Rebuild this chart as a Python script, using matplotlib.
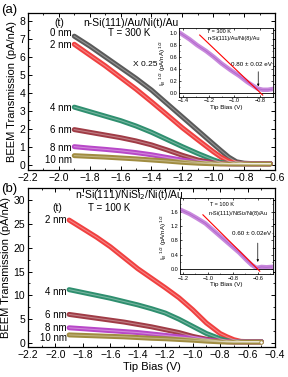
import numpy as np
import matplotlib
matplotlib.use('Agg')
import matplotlib.pyplot as plt
from matplotlib.ticker import MultipleLocator

plt.rcParams['font.family'] = ['Liberation Sans', 'DejaVu Sans']

# ---- panel (a): n-Si(111)/Au/Ni(t)/Au, 300 K
bias_a = [-1.90, -1.80, -1.70, -1.60, -1.50, -1.40, -1.30, -1.20, -1.10, -1.00,
          -0.95, -0.90, -0.85, -0.80, -0.75, -0.70, -0.63]
a_0nm = [7.15, 6.6, 6.0, 5.4, 4.8, 4.15, 3.4, 2.65, 1.9, 1.15, 0.78, 0.42, 0.16, 0.08, 0.06, 0.06, 0.05]
a_2nm = [6.7, 6.1, 5.5, 4.85, 4.2, 3.5, 2.78, 2.05, 1.38, 0.72, 0.42, 0.19, 0.08, 0.06, 0.05, 0.05, 0.05]
a_4nm = [3.2, 2.95, 2.7, 2.45, 2.15, 1.8, 1.4, 1.0, 0.62, 0.27, 0.12, 0.06, 0.05, 0.05, 0.05, 0.05, 0.05]
a_6nm = [1.95, 1.8, 1.65, 1.5, 1.32, 1.1, 0.82, 0.52, 0.26, 0.1, 0.07, 0.05, 0.05, 0.05, 0.05, 0.05, 0.05]
a_8nm = [1.0, 0.92, 0.85, 0.77, 0.67, 0.55, 0.4, 0.25, 0.13, 0.07, 0.05, 0.05, 0.05, 0.05, 0.05, 0.05, 0.05]
a_10nm = [0.5, 0.46, 0.42, 0.37, 0.32, 0.26, 0.2, 0.13, 0.08, 0.05, 0.04, 0.04, 0.04, 0.04, 0.04, 0.04, 0.04]

# ---- panel (b): n-Si(111)/NiSi2/Ni(t)/Au, 100 K
bias_b = [-1.90, -1.80, -1.70, -1.60, -1.50, -1.40, -1.30, -1.20, -1.10, -1.00,
          -0.90, -0.80, -0.75, -0.70, -0.65, -0.60, -0.55, -0.50]
b_2nm = [25.8, 24.0, 22.2, 20.2, 17.9, 15.6, 13.6, 11.6, 9.5, 7.0, 4.2, 2.0, 1.3, 0.7, 0.35, 0.3, 0.3, 0.3]
b_4nm = [11.2, 10.6, 10.0, 9.4, 8.7, 8.0, 7.2, 6.3, 5.0, 3.5, 2.0, 0.9, 0.5, 0.3, 0.3, 0.3, 0.3, 0.3]
b_6nm = [6.0, 5.6, 5.2, 4.8, 4.4, 3.9, 3.4, 2.8, 2.2, 1.4, 0.8, 0.4, 0.3, 0.25, 0.25, 0.25, 0.25, 0.25]
b_8nm = [3.2, 3.0, 2.8, 2.6, 2.4, 2.2, 1.9, 1.6, 1.3, 1.0, 0.6, 0.35, 0.3, 0.25, 0.25, 0.25, 0.25, 0.25]
b_10nm = [1.7, 1.6, 1.5, 1.4, 1.3, 1.15, 1.0, 0.9, 0.75, 0.6, 0.4, 0.25, 0.2, 0.2, 0.2, 0.2, 0.2, 0.2]

# ---- insets: square root of BEEM current for 8 nm Ni, with linear fit
ins_a_x = [-1.42, -1.35, -1.29, -1.22, -1.16, -1.10, -1.03, -0.96, -0.90, -0.85, -0.82, -0.78, -0.74, -0.71]
ins_a_y = [1.0, 0.9, 0.8, 0.7, 0.6, 0.49, 0.38, 0.28, 0.18, 0.11, 0.07, 0.05, 0.05, 0.06]
fit_a_x = [-1.27, -0.78]
fit_a_y = [0.97, -0.04]
ins_b_x = [-1.22, -1.15, -1.09, -1.02, -0.96, -0.89, -0.82, -0.75, -0.69, -0.65, -0.61, -0.57, -0.53, -0.49]
ins_b_y = [1.65, 1.54, 1.42, 1.27, 1.09, 0.88, 0.67, 0.46, 0.25, 0.12, 0.03, 0.06, 0.05, 0.06]
fit_b_x = [-1.04, -0.584]
fit_b_y = [1.51, -0.06]

labels = ['0 nm', '2 nm', '4 nm', '6 nm', '8 nm', '10 nm']
colors = {'0 nm': '#5a5a5a', '2 nm': '#f04040', '4 nm': '#2f8f6f',
          '6 nm': '#a03c46', '8 nm': '#b848c8', '10 nm': '#a08c40'}


def band(ax, x, y, name):
    c = colors[name]
    ax.plot(x, y, '-', color=c, lw=3.6, solid_capstyle='round', zorder=3)
    ax.plot(x, y, '-', color='white', lw=0.8, alpha=0.35, zorder=4)


def style(ax, ymaj, ymin):
    ax.tick_params(direction='in', which='both', top=True, right=True, labelsize=7.5, pad=2)
    ax.tick_params(which='major', length=3, width=0.7)
    ax.tick_params(which='minor', length=1.6, width=0.6)
    ax.xaxis.set_major_locator(MultipleLocator(0.2))
    ax.xaxis.set_minor_locator(MultipleLocator(0.1))
    ax.yaxis.set_major_locator(MultipleLocator(ymaj))
    ax.yaxis.set_minor_locator(MultipleLocator(ymin))
    for s in ax.spines.values():
        s.set_linewidth(0.9)


def inset_style(ax):
    ax.tick_params(direction='in', which='both', top=True, right=True, labelsize=4, pad=1)
    ax.tick_params(which='major', length=1.6, width=0.5)
    ax.tick_params(which='minor', length=0.9, width=0.4)
    for s in ax.spines.values():
        s.set_linewidth(0.6)


fig = plt.figure(figsize=(2.88, 3.77), dpi=100)

# ---------------- panel (a)
ax1 = fig.add_axes([0.097, 0.549, 0.858, 0.417])
for name, ys in zip(labels, [a_0nm, a_2nm, a_4nm, a_6nm, a_8nm, a_10nm]):
    band(ax1, bias_a, ys, name)
ax1.set_xlim(-2.2, -0.6)
ax1.set_ylim(-0.3, 8.45)
style(ax1, 1, 0.5)
ax1.set_ylabel('BEEM Transmission (pA/nA)', fontsize=8, labelpad=2)
ax1.text(-1.84, 7.9, 'n-Si(111)/Au/Ni(t)/Au', fontsize=7.5, va='center')
ax1.text(-2.03, 7.9, '(t)', fontsize=7.5, va='center')
ax1.text(-1.68, 7.33, 'T = 300 K', fontsize=7, va='center')
ax1.text(-1.52, 5.6, 'X 0.25', fontsize=6, va='center')
for name, ypos in zip(labels, [7.33, 6.67, 3.17, 1.94, 0.94, 0.28]):
    ax1.text(-1.915, ypos, name, fontsize=7, ha='right', va='center')
fig.text(0.005, 0.965, '(a)', fontsize=9.5)

ins1 = fig.add_axes([0.622, 0.743, 0.326, 0.183])
ins1.plot(ins_a_x, ins_a_y, '-', color='#c888dc', lw=3.2, zorder=2)
ins1.plot(ins_a_x, ins_a_y, '-', color='#a050c0', lw=0.6, alpha=0.6, zorder=3)
ins1.plot(fit_a_x, fit_a_y, '-', color='#ff0000', lw=0.8, zorder=4)
ins1.axhline(0, color='black', lw=0.6)
ins1.set_xlim(-1.43, -0.70)
ins1.set_ylim(-0.07, 1.09)
ins1.xaxis.set_major_locator(MultipleLocator(0.2))
ins1.xaxis.set_minor_locator(MultipleLocator(0.1))
ins1.yaxis.set_major_locator(MultipleLocator(0.2))
ins1.yaxis.set_minor_locator(MultipleLocator(0.1))
inset_style(ins1)
ins1.set_xlabel('Tip Bias (V)', fontsize=4.5, labelpad=1)
ins1.set_ylabel(r'I$_B$$^{\ 1/2}$ (pA/nA)$^{\ 1/2}$', fontsize=4.5, labelpad=1)
ins1.text(-1.21, 1.0, 'T = 300 K', fontsize=4)
ins1.text(-1.21, 0.88, 'n-Si(111)/Au/Ni(8)/Au', fontsize=4)
ins1.text(-0.71, 0.45, '0.80 \u00b1 0.02 eV', fontsize=4.5, ha='right')
ins1.annotate('', xy=(-0.815, 0.06), xytext=(-0.815, 0.4),
              arrowprops=dict(arrowstyle='-|>', lw=0.5, color='black', mutation_scale=3))

# ---------------- panel (b)
ax2 = fig.add_axes([0.097, 0.080, 0.858, 0.421])
for name, ys in zip(labels[1:], [b_2nm, b_4nm, b_6nm, b_8nm, b_10nm]):
    band(ax2, bias_b, ys, name)
ax2.plot(bias_b[-1], b_10nm[-1], 'o', mfc='white', mec=colors['10 nm'], ms=2.5, mew=0.6, zorder=5)
ax2.set_xlim(-2.2, -0.4)
ax2.set_ylim(-0.8, 32.5)
style(ax2, 5, 2.5)
ax2.set_ylabel('BEEM Transmission (pA/nA)', fontsize=8, labelpad=2)
ax2.set_xlabel('Tip Bias (V)', fontsize=8, labelpad=2)
ax2.text(-1.86, 31.0, 'n-Si(111)/NiSi$_2$/Ni(t)/Au', fontsize=7.5, va='center')
ax2.text(-2.02, 28.3, '(t)', fontsize=7.5, va='center')
ax2.text(-1.76, 28.3, 'T = 100 K', fontsize=7, va='center')
for name, ypos in zip(labels[1:], [25.8, 10.7, 5.9, 3.1, 1.05]):
    ax2.text(-1.915, ypos, name, fontsize=7, ha='right', va='center')
fig.text(0.005, 0.49, '(b)', fontsize=9.5)

ins2 = fig.add_axes([0.625, 0.272, 0.322, 0.202])
ins2.plot(ins_b_x, ins_b_y, '-', color='#c888dc', lw=3.2, zorder=2)
ins2.plot(ins_b_x, ins_b_y, '-', color='#a050c0', lw=0.6, alpha=0.6, zorder=3)
ins2.plot(fit_b_x, fit_b_y, '-', color='#ff0000', lw=0.8, zorder=4)
ins2.axhline(0, color='black', lw=0.6)
ins2.set_xlim(-1.224, -0.48)
ins2.set_ylim(-0.15, 1.97)
ins2.xaxis.set_major_locator(MultipleLocator(0.2))
ins2.xaxis.set_minor_locator(MultipleLocator(0.1))
ins2.yaxis.set_major_locator(MultipleLocator(0.4))
ins2.yaxis.set_minor_locator(MultipleLocator(0.2))
inset_style(ins2)
ins2.set_xlabel('Tip Bias (V)', fontsize=4.5, labelpad=1)
ins2.set_ylabel(r'I$_B$$^{\ 1/2}$ (pA/nA)$^{\ 1/2}$', fontsize=4.5, labelpad=1)
ins2.text(-0.98, 1.75, 'T = 100 K', fontsize=4)
ins2.text(-1.0, 1.5, 'n-Si(111)/NiSi$_2$/Ni(8)/Au', fontsize=4)
ins2.text(-0.49, 0.95, '0.60 \u00b1 0.02eV', fontsize=4.5, ha='right')
ins2.annotate('', xy=(-0.60, 0.12), xytext=(-0.60, 0.8),
              arrowprops=dict(arrowstyle='-|>', lw=0.5, color='black', mutation_scale=3))

fig.savefig('out.png', dpi=100)
